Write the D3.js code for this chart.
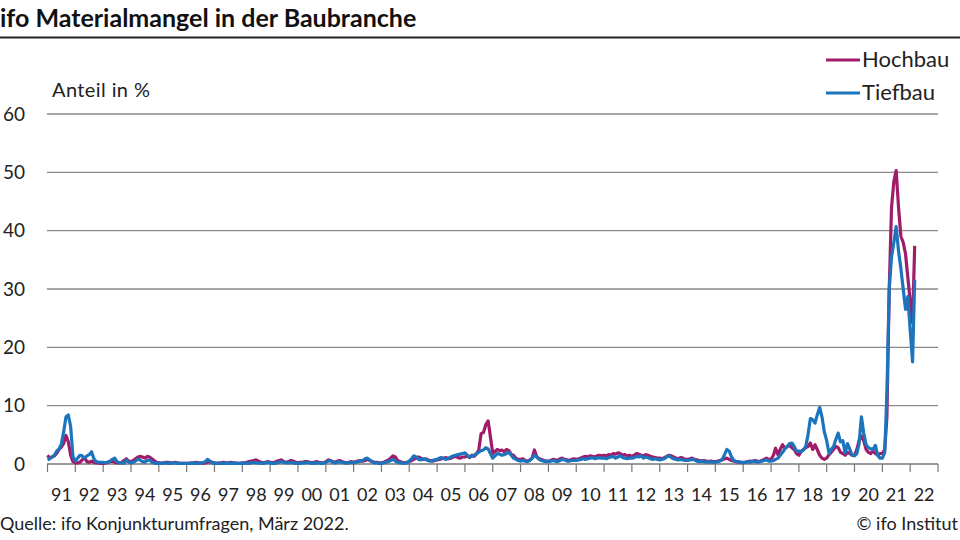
<!DOCTYPE html>
<html>
<head>
<meta charset="utf-8">
<script src="https://cdn.jsdelivr.net/npm/d3@7"></script>
<style>
  body { margin: 0; background: #fff; }
  svg { display: block; font-family: Lato, "Open Sans", sans-serif; }
</style>
</head>
<body>
<svg id="chart" width="960" height="540"></svg>
<script>
// monthly values from Jan 1991, one row per year
const hochbau = [
  1.5, 1.0, 1.2, 1.4, 1.8, 2.5, 2.9, 3.5, 4.9, 3.8, 1.5, 0.4,   // 1991
  0.2, 0.2, 0.3, 0.7, 1.1, 0.4, 0.3, 0.5, 0.3, 0.2, 0.2, 0.1,   // 1992
  0.1, 0.2, 0.3, 0.4, 0.5, 0.3, 0.2, 0.2, 0.3, 0.6, 0.9, 0.5,   // 1993
  0.4, 0.6, 0.9, 1.2, 1.3, 1.2, 1.0, 1.3, 1.2, 0.9, 0.6, 0.3,   // 1994
  0.2, 0.1, 0.2, 0.3, 0.3, 0.2, 0.2, 0.3, 0.2, 0.1, 0.1, 0.1,   // 1995
  0.1, 0.1, 0.2, 0.2, 0.3, 0.2, 0.2, 0.1, 0.2, 0.3, 0.4, 0.3,   // 1996
  0.2, 0.1, 0.1, 0.2, 0.3, 0.2, 0.2, 0.3, 0.2, 0.2, 0.1, 0.1,   // 1997
  0.2, 0.2, 0.3, 0.4, 0.5, 0.6, 0.7, 0.5, 0.3, 0.2, 0.3, 0.4,   // 1998
  0.3, 0.2, 0.3, 0.5, 0.6, 0.7, 0.4, 0.3, 0.4, 0.6, 0.5, 0.3,   // 1999
  0.2, 0.3, 0.3, 0.4, 0.4, 0.3, 0.2, 0.3, 0.4, 0.3, 0.2, 0.2,   // 2000
  0.4, 0.7, 0.6, 0.4, 0.3, 0.5, 0.6, 0.4, 0.3, 0.2, 0.3, 0.4,   // 2001
  0.3, 0.4, 0.5, 0.6, 0.5, 0.6, 0.8, 0.6, 0.4, 0.3, 0.3, 0.2,   // 2002
  0.2, 0.3, 0.5, 0.7, 1.0, 1.4, 1.2, 0.6, 0.4, 0.3, 0.2, 0.3,   // 2003
  0.4, 0.6, 0.8, 1.0, 1.2, 1.0, 0.8, 0.9, 0.7, 0.6, 0.5, 0.6,   // 2004
  0.7, 0.8, 0.9, 1.0, 1.1, 0.9, 1.0, 1.2, 1.3, 1.1, 1.0, 1.2,   // 2005
  1.2, 1.4, 1.1, 1.5, 1.3, 1.7, 2.4, 5.2, 5.4, 6.7, 7.4, 4.7,   // 2006
  1.8, 2.2, 2.5, 2.3, 2.4, 2.1, 2.5, 2.3, 1.6, 1.5, 1.0, 0.8,   // 2007
  0.8, 0.9, 0.6, 0.5, 0.7, 1.0, 2.4, 1.2, 0.9, 0.8, 0.6, 0.5,   // 2008
  0.5, 0.6, 0.8, 0.7, 0.6, 0.9, 1.0, 0.8, 0.7, 0.6, 0.8, 0.9,   // 2009
  0.8, 0.9, 1.0, 1.2, 1.3, 1.2, 1.4, 1.3, 1.2, 1.4, 1.5, 1.4,   // 2010
  1.5, 1.4, 1.6, 1.5, 1.8, 1.7, 1.9, 1.8, 1.5, 1.6, 1.4, 1.5,   // 2011
  1.3, 1.5, 1.8, 1.7, 1.5, 1.4, 1.6, 1.5, 1.3, 1.2, 1.1, 1.0,   // 2012
  1.0, 0.9, 1.1, 1.3, 1.5, 1.4, 1.2, 1.0, 0.9, 1.1, 1.0, 0.8,   // 2013
  0.8, 0.9, 1.0, 0.8, 0.7, 0.6, 0.5, 0.6, 0.5, 0.4, 0.5, 0.4,   // 2014
  0.4, 0.5, 0.6, 0.7, 0.9, 1.0, 0.8, 0.6, 0.5, 0.4, 0.3, 0.3,   // 2015
  0.3, 0.3, 0.4, 0.5, 0.4, 0.6, 0.5, 0.4, 0.6, 0.8, 1.0, 0.8,   // 2016
  0.8, 1.5, 2.7, 1.6, 2.5, 3.3, 2.7, 3.0, 3.2, 2.8, 2.5, 1.8,   // 2017
  1.5, 2.2, 2.5, 2.8, 3.0, 3.6, 2.5, 3.3, 2.4, 1.5, 1.0, 0.8,   // 2018
  1.0, 1.6, 2.0, 2.5, 3.0, 2.8, 2.0, 1.8, 1.5, 2.0, 1.8, 1.5,   // 2019
  1.5, 2.5, 4.0, 4.8, 4.0, 2.5, 2.0, 1.8, 2.2, 1.8, 1.5, 1.8,   // 2020
  1.8, 2.5, 8.0, 30.0, 44.0, 48.5, 50.3, 44.0, 39.0, 38.0, 36.0, 32.0, // 2021
  28.0, 24.2, 37.4                                               // 2022
];

const tiefbau = [
  0.7, 0.9, 1.2, 1.5, 2.2, 2.6, 3.4, 5.5, 8.1, 8.4, 6.4, 1.3,   // 1991
  0.5, 1.0, 1.5, 1.4, 1.0, 1.4, 1.6, 2.1, 0.9, 0.4, 0.3, 0.3,   // 1992
  0.3, 0.2, 0.3, 0.5, 0.8, 1.0, 0.4, 0.2, 0.2, 0.1, 0.7, 0.3,   // 1993
  0.2, 0.3, 0.5, 0.8, 0.7, 0.4, 0.3, 0.6, 0.7, 0.3, 0.2, 0.1,   // 1994
  0.1, 0.1, 0.2, 0.2, 0.1, 0.1, 0.2, 0.2, 0.1, 0.1, 0.1, 0.1,   // 1995
  0.1, 0.1, 0.1, 0.2, 0.1, 0.1, 0.2, 0.2, 0.4, 0.8, 0.5, 0.2,   // 1996
  0.1, 0.1, 0.2, 0.1, 0.1, 0.2, 0.1, 0.1, 0.2, 0.1, 0.1, 0.1,   // 1997
  0.1, 0.2, 0.1, 0.1, 0.2, 0.3, 0.2, 0.2, 0.1, 0.1, 0.2, 0.3,   // 1998
  0.2, 0.1, 0.1, 0.2, 0.3, 0.4, 0.3, 0.2, 0.2, 0.3, 0.2, 0.1,   // 1999
  0.1, 0.1, 0.2, 0.2, 0.3, 0.2, 0.1, 0.1, 0.2, 0.2, 0.1, 0.1,   // 2000
  0.3, 0.5, 0.6, 0.3, 0.2, 0.3, 0.4, 0.3, 0.2, 0.2, 0.2, 0.3,   // 2001
  0.2, 0.3, 0.4, 0.5, 0.6, 0.9, 1.0, 0.7, 0.4, 0.2, 0.2, 0.1,   // 2002
  0.1, 0.2, 0.3, 0.4, 0.6, 0.8, 0.5, 0.3, 0.2, 0.2, 0.1, 0.2,   // 2003
  0.5, 0.9, 1.4, 1.2, 0.8, 0.7, 0.9, 0.8, 0.6, 0.5, 0.6, 0.7,   // 2004
  0.8, 1.0, 1.1, 0.9, 0.8, 1.0, 1.2, 1.4, 1.5, 1.6, 1.7, 1.8,   // 2005
  1.9, 1.5, 1.2, 1.3, 1.5, 1.8, 2.0, 2.3, 2.4, 2.8, 2.6, 1.8,   // 2006
  1.0, 1.4, 1.8, 1.7, 1.5, 1.6, 1.8, 2.0, 1.5, 1.0, 0.8, 0.6,   // 2007
  0.5, 0.6, 0.5, 0.4, 0.6, 1.0, 1.5, 1.2, 0.8, 0.6, 0.5, 0.4,   // 2008
  0.4, 0.5, 0.6, 0.5, 0.4, 0.6, 0.8, 0.7, 0.5, 0.5, 0.6, 0.6,   // 2009
  0.6, 0.7, 0.8, 0.9, 0.8, 0.9, 1.0, 1.1, 0.9, 1.0, 1.1, 1.0,   // 2010
  1.0, 0.9, 1.1, 1.2, 1.3, 1.0, 1.2, 1.4, 1.1, 1.0, 0.9, 1.0,   // 2011
  1.0, 1.1, 1.3, 1.2, 1.4, 1.0, 1.2, 1.1, 0.9, 0.8, 0.9, 0.8,   // 2012
  0.7, 0.8, 0.9, 1.2, 1.4, 1.1, 0.9, 0.8, 0.7, 0.8, 0.7, 0.6,   // 2013
  0.6, 0.7, 0.8, 0.7, 0.5, 0.4, 0.5, 0.4, 0.3, 0.4, 0.3, 0.3,   // 2014
  0.3, 0.4, 0.5, 0.8, 1.6, 2.5, 2.2, 1.2, 0.6, 0.4, 0.4, 0.3,   // 2015
  0.2, 0.3, 0.4, 0.3, 0.5, 0.4, 0.3, 0.4, 0.5, 0.6, 0.7, 0.5,   // 2016
  0.5, 0.6, 0.8, 1.0, 1.5, 2.0, 2.6, 3.0, 3.5, 3.6, 3.0, 2.2,   // 2017
  2.2, 2.1, 2.4, 3.0, 5.0, 7.8, 7.6, 7.0, 8.5, 9.7, 8.0, 5.5,   // 2018
  4.0, 1.8, 2.5, 3.0, 4.2, 5.3, 3.8, 4.0, 1.9, 3.5, 2.5, 1.5,   // 2019
  1.4, 1.8, 3.5, 8.1, 5.3, 3.3, 2.8, 2.6, 2.5, 3.2, 1.5, 1.0,   // 2020
  1.0, 2.0, 12.0, 30.0, 35.5, 38.0, 40.7, 36.5, 33.5, 30.0, 26.5, 28.7, // 2021
  23.0, 17.5, 31.6                                               // 2022
];

const seriesNames = ["Hochbau", "Tiefbau"];
const seriesColors = ["#a01c6a", "#1c75bc"];
const yTicks = [0, 10, 20, 30, 40, 50, 60];
const yearLabels = ["91","92","93","94","95","96","97","98","99","00","01","02","03","04","05","06",
                    "07","08","09","10","11","12","13","14","15","16","17","18","19","20","21","22"];

const svg = d3.select("#chart");

const x = d3.scaleTime()
  .domain([new Date(1991, 0, 1), new Date(2023, 0, 1)])
  .range([47.5, 938]);

const y = d3.scaleLinear()
  .domain([0, 60])
  .range([464, 114]);

const toPoints = arr => arr.map((v, i) => ({ date: new Date(1991, i, 1), value: v }));

// title
svg.append("text")
  .attr("x", 0).attr("y", 27)
  .attr("font-size", 25).attr("font-weight", "bold").attr("fill", "#111")
  .text("ifo Materialmangel in der Baubranche");

svg.append("line")
  .attr("x1", 0).attr("x2", 960).attr("y1", 37.5).attr("y2", 37.5)
  .attr("stroke", "#222").attr("stroke-width", 2);

// gridlines
svg.append("g").selectAll("line")
  .data(yTicks.filter(d => d > 0))
  .join("line")
  .attr("x1", 47).attr("x2", 938)
  .attr("y1", d => y(d)).attr("y2", d => y(d))
  .attr("stroke", "#8a8a8a").attr("stroke-width", 1.3);

// y labels
svg.append("g").selectAll("text")
  .data(yTicks)
  .join("text")
  .attr("x", 25).attr("y", d => y(d) + 6.5)
  .attr("text-anchor", "end")
  .attr("font-size", 19).attr("fill", "#222")
  .text(d => d);

svg.append("text")
  .attr("x", 52).attr("y", 97)
  .attr("font-size", 20).attr("letter-spacing", 0.4).attr("fill", "#222")
  .text("Anteil in %");

// x axis
const years = d3.range(1991, 2024).map(yr => new Date(yr, 0, 1));
svg.append("line")
  .attr("x1", 47).attr("x2", 938).attr("y1", y(0)).attr("y2", y(0))
  .attr("stroke", "#777").attr("stroke-width", 1.3);

svg.append("g").selectAll("line")
  .data(years)
  .join("line")
  .attr("x1", d => x(d)).attr("x2", d => x(d))
  .attr("y1", y(0)).attr("y2", y(0) + 8)
  .attr("stroke", "#777").attr("stroke-width", 1.2);

svg.append("g").selectAll("text")
  .data(yearLabels)
  .join("text")
  .attr("x", (d, i) => (x(years[i]) + x(years[i + 1])) / 2)
  .attr("y", 501)
  .attr("text-anchor", "middle")
  .attr("font-size", 18).attr("fill", "#222")
  .text(d => d);

// series
const line = d3.line()
  .x(d => x(d.date))
  .y(d => y(d.value))
  .curve(d3.curveLinear);

[hochbau, tiefbau].forEach((arr, i) => {
  svg.append("path")
    .datum(toPoints(arr))
    .attr("fill", "none")
    .attr("stroke", seriesColors[i])
    .attr("stroke-width", 3.2)
    .attr("stroke-linejoin", "round")
    .attr("d", line);
});

// legend
const legend = svg.append("g");
seriesNames.forEach((name, i) => {
  const ly = 60 + i * 33;
  legend.append("line")
    .attr("x1", 826).attr("x2", 860).attr("y1", ly).attr("y2", ly)
    .attr("stroke", seriesColors[i]).attr("stroke-width", 3);
  legend.append("text")
    .attr("x", 862).attr("y", ly + 7)
    .attr("font-size", 22).attr("fill", "#222")
    .text(name);
});

// footer
svg.append("text")
  .attr("x", 0).attr("y", 530)
  .attr("font-size", 18).attr("fill", "#222")
  .text("Quelle: ifo Konjunkturumfragen, März 2022.");

svg.append("text")
  .attr("x", 958).attr("y", 530)
  .attr("text-anchor", "end")
  .attr("font-size", 18).attr("fill", "#222")
  .text("© ifo Institut");
</script>
</body>
</html>
